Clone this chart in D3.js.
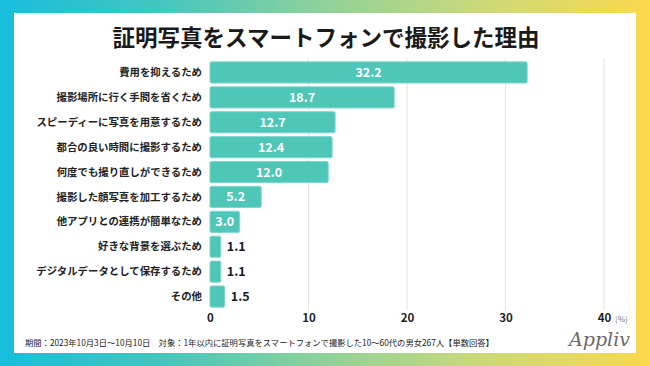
<!DOCTYPE html>
<html><head><meta charset="utf-8">
<script src="https://cdn.jsdelivr.net/npm/d3@7"></script>
<style>html,body{margin:0;padding:0;background:#fff;}svg{display:block;}</style>
</head><body>
<svg id="chart" width="650" height="366"></svg>
<script>
const title = "証明写真をスマートフォンで撮影した理由";
const categories = [
  "費用を抑えるため",
  "撮影場所に行く手間を省くため",
  "スピーディーに写真を用意するため",
  "都合の良い時間に撮影するため",
  "何度でも撮り直しができるため",
  "撮影した顔写真を加工するため",
  "他アプリとの連携が簡単なため",
  "好きな背景を選ぶため",
  "デジタルデータとして保存するため",
  "その他"
];
const values = [32.2, 18.7, 12.7, 12.4, 12.0, 5.2, 3.0, 1.1, 1.1, 1.5];
const tickValues = [0, 10, 20, 30, 40];
const unitLabel = "(%)";
const footnote = "期間：2023年10月3日～10月10日　対象：1年以内に証明写真をスマートフォンで撮影した10～60代の男女267人【単数回答】";
const brand = "Appliv";

const svg = d3.select("#chart");
const W = 650, H = 366;
const defs = svg.append("defs");
const grad = defs.append("linearGradient").attr("id","bg").attr("x1","0").attr("x2","1").attr("y1","0").attr("y2","0");
grad.append("stop").attr("offset","0%").attr("stop-color","#17BEDC");
grad.append("stop").attr("offset","25%").attr("stop-color","#45C6BE");
grad.append("stop").attr("offset","50%").attr("stop-color","#8FD298");
grad.append("stop").attr("offset","75%").attr("stop-color","#CDD978");
grad.append("stop").attr("offset","100%").attr("stop-color","#FAD94E");
svg.append("rect").attr("width",W).attr("height",H).attr("fill","url(#bg)");
svg.append("rect").attr("x",14).attr("y",13).attr("width",622).attr("height",340).attr("fill","#fff");

const font = "'Noto Sans CJK JP','Noto Sans',sans-serif";

svg.append("text").attr("x",326).attr("y",46).attr("text-anchor","middle")
  .attr("font-family",font).attr("font-weight",700).attr("font-size",22.5).attr("fill","#1a1a1a")
  .text(title);

const x = d3.scaleLinear().domain([0,40]).range([210,604]);
const y = d3.scaleBand().domain(categories).range([60,309]).paddingInner(0.15).paddingOuter(0.075);

// gridlines
svg.append("g").selectAll("line").data(tickValues.filter(d=>d>0)).join("line")
  .attr("x1",d=>x(d)).attr("x2",d=>x(d)).attr("y1",58).attr("y2",310)
  .attr("stroke","#e3e3e3").attr("stroke-width",1);

// axis
const axis = d3.axisBottom(x).tickValues(tickValues).tickSize(0).tickPadding(0);
const ag = svg.append("g").attr("transform","translate(0,314)").call(axis);
ag.select(".domain").remove();
ag.selectAll("text").attr("font-family",font).attr("font-weight",700).attr("font-size",11.5).attr("fill","#222").attr("dy","0.71em");
svg.append("text").attr("x",615).attr("y",322).attr("font-family",font).attr("font-size",8).attr("fill","#777").text(unitLabel);

// bars
const data = categories.map((c,i)=>({c, v: values[i]}));
svg.append("g").selectAll("rect").data(data).join("rect")
  .attr("x",x(0)).attr("y",d=>y(d.c)).attr("width",d=>x(d.v)-x(0)).attr("height",y.bandwidth())
  .attr("rx",1.5).attr("fill","#4FC7B8").attr("stroke","#7FD7CC").attr("stroke-width",1);

// category labels
svg.append("g").selectAll("text").data(data).join("text")
  .attr("x",202).attr("y",d=>y(d.c)+y.bandwidth()/2).attr("dy","0.35em").attr("text-anchor","end")
  .attr("font-family",font).attr("font-weight",700).attr("font-size",10.4).attr("fill","#222")
  .text(d=>d.c);

// value labels
svg.append("g").selectAll("text").data(data).join("text")
  .attr("x",d=> d.v>=2 ? (x(0)+x(d.v))/2 : x(d.v)+6)
  .attr("y",d=>y(d.c)+y.bandwidth()/2).attr("dy","0.36em")
  .attr("text-anchor",d=> d.v>=2 ? "middle" : "start")
  .attr("font-family",font).attr("font-weight",700).attr("font-size",12.5)
  .attr("fill",d=> d.v>=2 ? "#fff" : "#1a1a1a")
  .text(d=>d.v.toFixed(1));

svg.append("text").attr("x",25).attr("y",346).attr("font-family",font).attr("font-size",8.3).attr("fill","#222").text(footnote);

svg.append("text").attr("x",630).attr("y",346).attr("text-anchor","end")
  .attr("font-family","'DejaVu Serif',serif").attr("font-style","italic").attr("font-size",19).attr("fill","#6a6a6a")
  .text(brand);
</script>
</body></html>
